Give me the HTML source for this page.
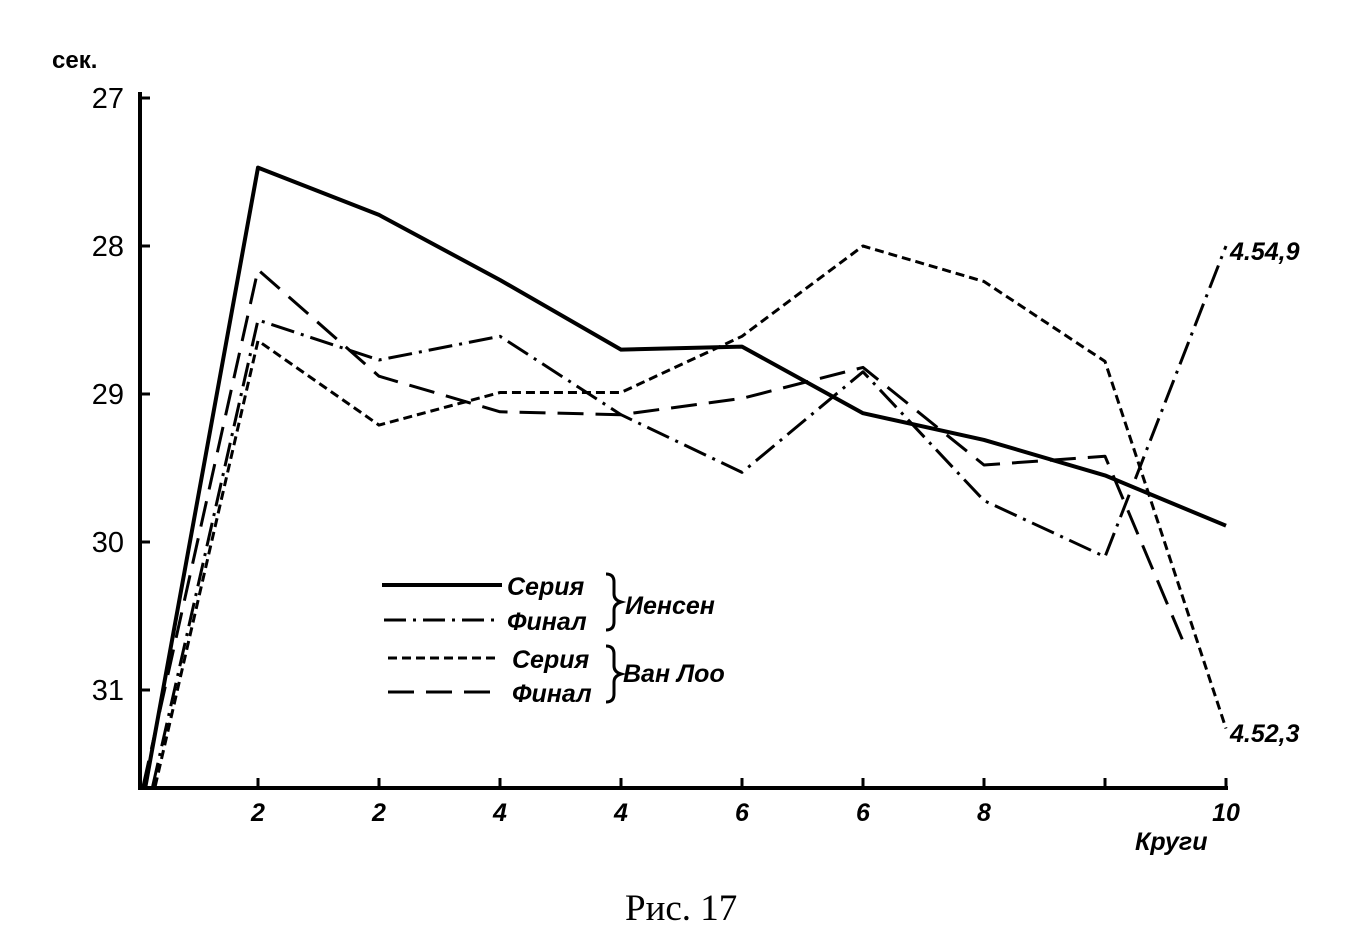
<!DOCTYPE html>
<html><head><meta charset="utf-8"><style>
body{margin:0;background:#fff;}
svg{display:block;font-family:"Liberation Sans",sans-serif;}
.t{font-weight:bold;font-style:italic;font-size:25px;fill:#000;}
.lg{font-style:italic;font-weight:bold;font-size:25px;fill:#000;}
</style></head><body>
<svg id="chart" width="1358" height="949" viewBox="0 0 1358 949">
<g id="axes"></g>
<g id="series"></g>
<g>
 <line x1="382" y1="585" x2="502" y2="585" stroke="#000" stroke-width="4"/>
 <text class="lg" x="507" y="595">Серия</text>
 <line x1="384" y1="620" x2="500" y2="620" stroke="#000" stroke-width="3" stroke-dasharray="22,7,3,7"/>
 <text class="lg" x="507" y="630">Финал</text>
 <path d="M606,574 q8,0 8,8 v12 q0,6 7,8 q-7,2 -7,8 v12 q0,8 -8,8" fill="none" stroke="#000" stroke-width="3"/>
 <text class="lg" x="625" y="614">Иенсен</text>
 <line x1="388" y1="658" x2="498" y2="658" stroke="#000" stroke-width="3" stroke-dasharray="9,5"/>
 <text class="lg" x="512" y="668">Серия</text>
 <line x1="388" y1="692" x2="498" y2="692" stroke="#000" stroke-width="3" stroke-dasharray="26,12"/>
 <text class="lg" x="512" y="702">Финал</text>
 <path d="M606,646 q8,0 8,8 v12 q0,6 7,8 q-7,2 -7,8 v12 q0,8 -8,8" fill="none" stroke="#000" stroke-width="3"/>
 <text class="lg" x="623" y="682">Ван Лоо</text>
</g>
<text class="t" x="1230" y="260">4.54,9</text>
<text class="t" x="1230" y="742">4.52,3</text>
<text x="625" y="920" font-family="Liberation Serif, serif" font-size="37">Рис.  17</text>
</svg>
<script>
const yTicks=[27,28,29,30,31];
const xTickLabels=["2","2","4","4","6","6","8","","10"];
const jensenSeriesX=[0.07,1,2,3,4,5,6,7,8,9];
const jensenSeries=[31.65,27.47,27.79,28.23,28.70,28.68,29.13,29.31,29.55,29.89];
const jensenFinalX=[0.13,1,2,3,4,5,6,7,8,9];
const jensenFinal=[31.65,28.5,28.77,28.61,29.14,29.53,28.85,29.72,30.1,28.0];
const vanLooSeriesX=[0.15,1,2,3,4,5,6,7,8,9];
const vanLooSeries=[31.65,28.64,29.21,28.99,28.99,28.61,28.0,28.24,28.78,31.26];
const vanLooFinalX=[0.05,1,2,3,4,5,6,7,8,8.66];
const vanLooFinal=[31.65,28.16,28.88,29.12,29.14,29.03,28.82,29.48,29.42,30.7];

const NS="http://www.w3.org/2000/svg";
const x0=137,xStep=121, yTop=98, yPer=148, yBottom=788;
function xs(i){return x0+xStep*i;}
function ys(v){return yTop+(v-27)*yPer;}
function mk(tag,attrs,parent){const e=document.createElementNS(NS,tag);for(const k in attrs)e.setAttribute(k,attrs[k]);parent.appendChild(e);return e;}
const axes=document.getElementById('axes');
let a=mk('line',{x1:140,y1:92,x2:140,y2:yBottom,stroke:'#000','stroke-width':4},axes);


a=mk('line',{x1:138,y1:yBottom,x2:1228,y2:yBottom,stroke:'#000','stroke-width':4},axes);


yTicks.forEach(v=>{
 const t=mk('line',{x1:140,y1:ys(v),x2:150,y2:ys(v),stroke:'#000','stroke-width':3},axes);
 
 
 const l=mk('text',{x:124,y:ys(v)+10,'text-anchor':'end','font-size':29},axes);
 l.textContent=v;
 
 
});
xTickLabels.forEach((s,i)=>{
 const x=xs(i+1);
 const t=mk('line',{x1:x,y1:yBottom-10,x2:x,y2:yBottom,stroke:'#000','stroke-width':3},axes);
 
 
 const l=mk('text',{x:x,y:yBottom+33,'text-anchor':'middle','class':'t'},axes);
 l.textContent=s;
 
 
});
let tt=mk('text',{x:52,y:68,'font-size':24,'font-weight':'bold'},axes);
tt.textContent='сек.';


tt=mk('text',{x:1135,y:850,'class':'t'},axes);
tt.textContent='Круги';



const sg=document.getElementById('series');
function draw(xa,va,dash,name,w){
 const d=xa.map((x,i)=>(i?'L':'M')+xs(x).toFixed(1)+','+ys(va[i]).toFixed(1)).join(' ');
 const p=mk('path',{d:d,fill:'none',stroke:'#000','stroke-width':w,'stroke-linejoin':'round'},sg);
 if(dash)p.setAttribute('stroke-dasharray',dash);
 
 
}
draw(jensenSeriesX,jensenSeries,null,'jensen-series-line',4);
draw(jensenFinalX,jensenFinal,'24,7,3,7','jensen-final-line',3);
draw(vanLooSeriesX,vanLooSeries,'9,5','vanloo-series-line',3);
draw(vanLooFinalX,vanLooFinal,'26,12','vanloo-final-line',3);
</script>
</body></html>
